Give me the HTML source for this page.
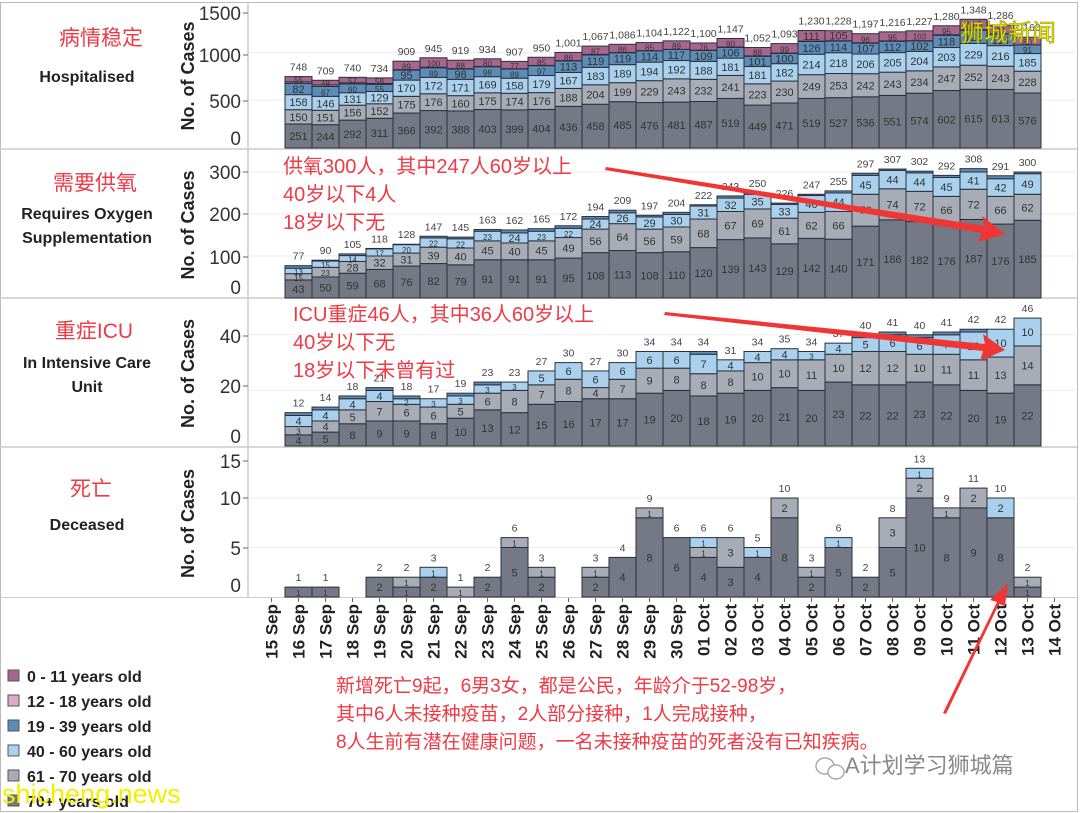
<!DOCTYPE html>
<html><head><meta charset="utf-8"><style>
html,body{margin:0;padding:0;background:#fff;}
svg{display:block;font-family:"Liberation Sans","Noto Sans CJK SC",sans-serif;}
</style></head><body>
<svg id="s" width="1080" height="813" viewBox="0 0 1080 813" xmlns="http://www.w3.org/2000/svg">
<rect width="1080" height="813" fill="#fff"/>
<g id="g"></g>
</svg>
<script>
var NS="http://www.w3.org/2000/svg",G=document.getElementById('g');
function el(t,a,txt){var e=document.createElementNS(NS,t);for(var k in a)e.setAttribute(k,a[k]);if(txt!==undefined)e.textContent=txt;G.appendChild(e);return e;}
var C=['#747985','#a8acb7','#a9d1ee','#5c8cb7','#dcabc9','#a8668f'];
// frame
el('rect',{x:0.5,y:2.5,width:1077,height:809,fill:'none',stroke:'#bbb','stroke-width':1});
[149,298,447].forEach(function(y){el('line',{x1:0,y1:y,x2:1077,y2:y,stroke:'#ccc','stroke-width':1.5});});
el('line',{x1:0,y1:597.5,x2:1077,y2:597.5,stroke:'#ccc','stroke-width':1});
el('line',{x1:248,y1:3,x2:248,y2:598,stroke:'#ccc','stroke-width':1.5});
var panels=[
 {base:148,sc:0.0955,top:4,ticks:[[1500,13],[1000,55],[500,101],[0,138]],grid:[1000,500],
  d:[[251,150,158,82,55,748],[244,151,146,67,48,709],[292,156,131,60,57,740],[311,152,129,55,58,734],[366,175,170,95,89,909],[392,176,172,89,100,945],[388,160,171,98,88,919],[403,175,169,98,80,934],[399,174,158,89,77,907],[404,176,179,97,85,950],[436,188,167,113,86,1001],[458,204,183,119,87,1067],[485,199,189,119,86,1086],[476,229,194,114,85,1104],[481,243,192,117,89,1122],[487,232,188,109,76,1100],[519,241,181,106,90,1147],[449,223,181,101,88,1052],[471,230,182,100,99,1093],[519,249,214,126,111,1230],[527,253,218,114,105,1228],[536,242,206,107,96,1197],[551,243,205,112,95,1216],[574,234,204,102,103,1227],[602,247,203,118,95,1280],[615,252,229,126,110,1348],[613,243,216,114,90,1286],[576,228,185,91,80,1160]]},
 {base:298,sc:0.42,top:152,ticks:[[300,172],[200,214],[100,257],[0,287]],grid:[300,200,100],
  d:[[43,15,13,6,77],[50,23,15,2,90],[59,28,14,4,105],[68,32,17,1,118],[76,31,20,1,128],[82,39,22,4,147],[79,40,22,4,145],[91,45,23,4,163],[91,40,24,7,162],[91,45,23,6,165],[95,49,22,6,172],[108,56,24,6,194],[113,64,26,6,209],[108,56,29,4,197],[110,59,30,5,204],[120,68,31,3,222],[139,67,32,5,243],[143,69,35,3,250],[129,61,33,3,226],[142,62,40,3,247],[140,66,44,5,255],[171,76,45,5,297],[186,74,44,3,307],[182,72,44,4,302],[176,66,45,5,292],[187,72,41,8,308],[176,66,42,7,291],[185,62,49,4,300]]},
 {base:446,sc:2.78,top:301,ticks:[[40,336],[20,386],[0,436]],grid:[40,20],
  d:[[4,3,4,1,12],[5,4,4,1,14],[8,5,4,1,18],[9,7,4,1,21],[9,6,2,1,18],[8,6,3,0,17],[10,5,3,1,19],[13,6,3,1,23],[12,8,3,0,23],[15,7,5,0,27],[16,8,6,0,30],[17,4,6,0,27],[17,7,6,0,30],[19,9,6,0,34],[20,8,6,0,34],[18,8,7,1,34],[19,8,4,0,31],[20,10,4,0,34],[21,10,4,0,35],[20,11,3,0,34],[23,10,4,0,37],[22,12,5,1,40],[22,12,6,1,41],[23,10,6,1,40],[22,11,7,1,41],[20,11,10,1,42],[19,13,10,0,42],[22,14,10,0,46]]},
 {base:597,sc:9.9,top:450,ticks:[[15,461],[10,498],[5,548],[0,585]],grid:[10,5],
  d:[[1,0,0,1],[1,0,0,1],[0,0,0,0],[2,0,0,2],[1,1,0,2],[2,0,1,3],[0,1,0,1],[2,0,0,2],[5,1,0,6],[2,1,0,3],[0,0,0,0],[2,1,0,3],[4,0,0,4],[8,1,0,9],[6,0,0,6],[4,1,1,6],[3,3,0,6],[4,0,1,5],[8,2,0,10],[2,1,0,3],[5,0,1,6],[2,0,0,2],[5,3,0,8],[10,2,1,13],[8,1,0,9],[9,2,0,11],[8,0,2,10],[1,1,0,2]]}
];
panels.forEach(function(p,pi){
  p.grid.forEach(function(v){var y=p.base-v*p.sc;el('line',{x1:249,y1:y,x2:1076,y2:y,stroke:'#eee','stroke-width':1});});
  p.ticks.forEach(function(t){el('text',{x:241,y:t[1]+7,'font-size':19,'text-anchor':'end',fill:'#333'},String(t[0]));if(t[0]>0)el('line',{x1:243,y1:t[1],x2:248,y2:t[1],stroke:'#666'});});
  var cy=(p.top+p.base)/2;
  el('text',{x:0,y:0,'font-size':18,'font-weight':'bold',fill:'#222','text-anchor':'middle',transform:'translate('+(194)+','+cy+') rotate(-90)'},'No. of Cases');
  p.d.forEach(function(r,i){
    var x=258+(i+1)*27,total=r[r.length-1],segs;
    if(pi==0){var rem=total-r[0]-r[1]-r[2]-r[3]-r[4];segs=[[r[0],0,1],[r[1],1,1],[r[2],2,1],[r[3]+rem*0.7,3,r[3]],[rem*0.3,4,0],[r[4],5,r[4]]];}
    else segs=r.slice(0,r.length-1).map(function(v,k){return [v,k,v];});
    var y=p.base;
    if(total==0)return;
    segs.forEach(function(s,k){
      var v=s[0];if(v<=0)return;var h=v*p.sc;y-=h;
      el('rect',{x:x,y:y,width:27,height:h,fill:C[s[1]],stroke:'#2a2f3a','stroke-width':1});
      var lab=(pi==0)?(s[1]==4?null:(s[1]<3?r[s[1]]:s[2])):s[2];
      if(lab&&h>=4)el('text',{x:x+13.5,y:y+h/2+4,'font-size':(h>10?11:8),'text-anchor':'middle',fill:'#333'},String(lab));
    });
    var tt=total>=1000?String(total).replace(/(\d)(\d{3})$/,'$1,$2'):String(total);
    el('text',{x:x+13.5,y:p.base-total*p.sc-6,'font-size':10.5,'text-anchor':'middle',fill:'#444'},tt);
  });
});
// x labels
var dates=[];for(var i=15;i<=30;i++)dates.push(i+' Sep');for(var j=1;j<=14;j++)dates.push((j<10?'0':'')+j+' Oct');
dates.forEach(function(d,i){var cx=258+i*27+13.5;
  el('line',{x1:cx,y1:598,x2:cx,y2:602,stroke:'#666'});
  el('text',{x:0,y:0,'font-size':17,'font-weight':'bold',fill:'#222','text-anchor':'end',transform:'translate('+(cx+6)+',604) rotate(-90)'},d);});
// left titles
var red='#ee3a45';
function t(x,y,s,sz,f,w,a){el('text',{x:x,y:y,'font-size':sz,fill:f,'font-weight':w||'normal','text-anchor':a||'middle'},s);}
t(101,45,'病情稳定',21,red);t(87,82,'Hospitalised',16,'#222','bold');
t(95,190,'需要供氧',21,red);t(87,219,'Requires Oxygen',16,'#222','bold');t(87,243,'Supplementation',16,'#222','bold');
t(94,338,'重症ICU',21,red);t(87,368,'In Intensive Care',16,'#222','bold');t(87,392,'Unit',16,'#222','bold');
t(91,496,'死亡',21,red);t(87,530,'Deceased',16,'#222','bold');
// legend
var L=['0 - 11 years old','12 - 18 years old','19 - 39 years old','40 - 60 years old','61 - 70 years old','70+ years old'];
L.forEach(function(s,i){var y=676+i*25;el('rect',{x:8,y:y-6,width:11,height:11,fill:C[[5,4,3,2,1,0][i]],stroke:'#555'});t(27,y+6,s,16,'#222','bold','start');});
// annotations
t(283,173,'供氧300人，其中247人60岁以上',20,red,'normal','start');
t(283,201,'40岁以下4人',20,red,'normal','start');
t(283,229,'18岁以下无',20,red,'normal','start');
t(293,321,'ICU重症46人，其中36人60岁以上',20,red,'normal','start');
t(293,349,'40岁以下无',20,red,'normal','start');
t(293,377,'18岁以下未曾有过',20,red,'normal','start');
t(336,692,'新增死亡9起，6男3女，都是公民，年龄介于52-98岁，',19,red,'normal','start');
t(336,720,'其中6人未接种疫苗，2人部分接种，1人完成接种，',19,red,'normal','start');
t(336,748,'8人生前有潜在健康问题，一名未接种疫苗的死者没有已知疾病。',19,red,'normal','start');
// arrows
el('polygon',{points:'606,167 985,226 982,216 1005,234 978,242 982,233 605,170',fill:'#f03535'});
el('polygon',{points:'665,312 985,344 983,334 1005,350 980,361 983,351 664,315',fill:'#f03535'});
el('polygon',{points:'943,713 997,602 990,600 1008,583 1005,606 999,604 946,714',fill:'#f03535'});
// watermarks
el('text',{x:960,y:41,'font-size':24,fill:'#f2f000',stroke:'#8a8a00','stroke-width':0.6},'狮城新闻');
el('text',{x:2,y:803,'font-size':27,fill:'#f2f000'},'shicheng.news');
el('text',{x:845,y:773,'font-size':22,fill:'#888'},'A计划学习狮城篇');
el('ellipse',{cx:825,cy:766,rx:9,ry:8,fill:'none',stroke:'#aaa','stroke-width':1.5});
el('ellipse',{cx:836,cy:772,rx:8,ry:7,fill:'#fff',stroke:'#aaa','stroke-width':1.5});
</script>
</body></html>
